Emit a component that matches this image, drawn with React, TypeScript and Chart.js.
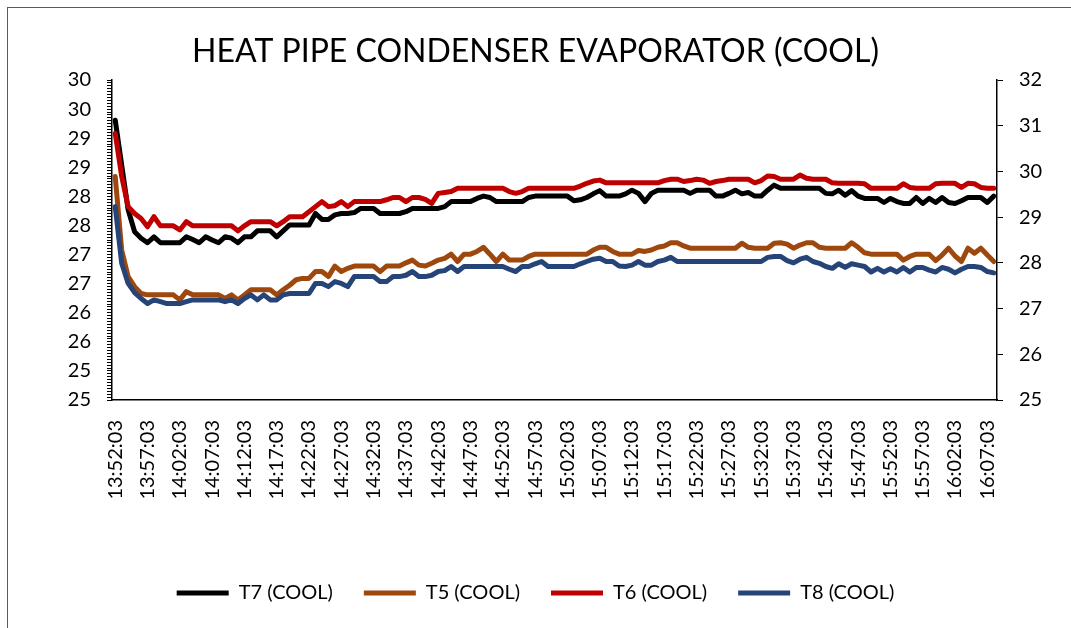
import React, { useEffect, useRef } from 'react';
import { Chart, registerables } from 'chart.js';

Chart.register(...registerables);

// ---- Data ----
const startTime = '13:52:03';
const pointCount = 137; // one reading per minute

function buildCategories(): string[] {
  const [h, m, s] = startTime.split(':').map(Number);
  const out: string[] = [];
  for (let i = 0; i < pointCount; i++) {
    const total = h * 60 + m + i;
    const hh = Math.floor(total / 60);
    const mm = total % 60;
    out.push(`${hh}:${String(mm).padStart(2, '0')}:${String(s).padStart(2, '0')}`);
  }
  return out;
}
const categories = buildCategories();

const t7Cool = [
  31.12, 30.14, 29.16, 28.68, 28.54, 28.44, 28.57, 28.44, 28.44, 28.44,
  28.44, 28.57, 28.51, 28.44, 28.57, 28.50, 28.44, 28.57, 28.54, 28.44,
  28.57, 28.57, 28.70, 28.70, 28.70, 28.57, 28.70, 28.83, 28.83, 28.83,
  28.83, 29.08, 28.95, 28.95, 29.05, 29.08, 29.08, 29.10, 29.19, 29.19,
  29.19, 29.08, 29.08, 29.08, 29.08, 29.12, 29.19, 29.19, 29.19, 29.19,
  29.19, 29.23, 29.34, 29.34, 29.34, 29.34, 29.41, 29.46, 29.43, 29.34,
  29.34, 29.34, 29.34, 29.34, 29.43, 29.46, 29.46, 29.46, 29.46, 29.46,
  29.46, 29.36, 29.38, 29.43, 29.51, 29.58, 29.46, 29.46, 29.46, 29.51,
  29.59, 29.52, 29.34, 29.52, 29.59, 29.59, 29.59, 29.59, 29.59, 29.52,
  29.59, 29.59, 29.59, 29.46, 29.46, 29.52, 29.59, 29.51, 29.54, 29.46,
  29.46, 29.59, 29.70, 29.63, 29.63, 29.63, 29.63, 29.63, 29.63, 29.63,
  29.52, 29.51, 29.59, 29.48, 29.58, 29.46, 29.41, 29.41, 29.41, 29.32,
  29.41, 29.34, 29.30, 29.30, 29.43, 29.30, 29.41, 29.32, 29.43, 29.32,
  29.30, 29.36, 29.43, 29.43, 29.43, 29.32, 29.46,
];

const t5Cool = [
  29.89, 28.28, 27.70, 27.48, 27.33, 27.30, 27.30, 27.30, 27.30, 27.30,
  27.19, 27.37, 27.30, 27.30, 27.30, 27.30, 27.30, 27.22, 27.30, 27.19,
  27.30, 27.41, 27.41, 27.41, 27.41, 27.30, 27.41, 27.51, 27.63, 27.66,
  27.66, 27.81, 27.81, 27.70, 27.93, 27.81, 27.88, 27.93, 27.93, 27.93,
  27.93, 27.81, 27.93, 27.93, 27.93, 28.00, 28.06, 27.95, 27.93, 27.99,
  28.06, 28.10, 28.19, 28.03, 28.19, 28.19, 28.25, 28.34, 28.19, 28.03,
  28.19, 28.06, 28.06, 28.06, 28.14, 28.19, 28.19, 28.19, 28.19, 28.19,
  28.19, 28.19, 28.19, 28.19, 28.28, 28.34, 28.34, 28.25, 28.19, 28.19,
  28.19, 28.27, 28.25, 28.28, 28.34, 28.37, 28.44, 28.44, 28.37, 28.32,
  28.32, 28.32, 28.32, 28.32, 28.32, 28.32, 28.32, 28.43, 28.34, 28.32,
  28.32, 28.32, 28.43, 28.44, 28.41, 28.32, 28.39, 28.44, 28.44, 28.34,
  28.32, 28.32, 28.32, 28.32, 28.44, 28.34, 28.22, 28.19, 28.19, 28.19,
  28.19, 28.19, 28.06, 28.14, 28.19, 28.19, 28.19, 28.05, 28.17, 28.32,
  28.15, 28.03, 28.32, 28.21, 28.32, 28.17, 28.03,
];

const t6Cool = [
  30.83, 29.89, 29.23, 29.08, 28.97, 28.79, 29.01, 28.81, 28.81, 28.81,
  28.72, 28.90, 28.81, 28.81, 28.81, 28.81, 28.81, 28.81, 28.81, 28.70,
  28.81, 28.90, 28.90, 28.90, 28.90, 28.81, 28.90, 29.01, 29.01, 29.01,
  29.12, 29.23, 29.34, 29.23, 29.25, 29.34, 29.23, 29.34, 29.34, 29.34,
  29.34, 29.34, 29.38, 29.43, 29.43, 29.34, 29.43, 29.43, 29.39, 29.30,
  29.52, 29.54, 29.56, 29.63, 29.63, 29.63, 29.63, 29.63, 29.63, 29.63,
  29.63, 29.56, 29.52, 29.56, 29.63, 29.63, 29.63, 29.63, 29.63, 29.63,
  29.63, 29.63, 29.68, 29.74, 29.79, 29.81, 29.75, 29.75, 29.75, 29.75,
  29.75, 29.75, 29.75, 29.75, 29.75, 29.80, 29.83, 29.83, 29.78, 29.80,
  29.83, 29.81, 29.74, 29.78, 29.80, 29.83, 29.83, 29.83, 29.83, 29.75,
  29.80, 29.90, 29.89, 29.83, 29.83, 29.83, 29.92, 29.85, 29.83, 29.83,
  29.83, 29.75, 29.74, 29.74, 29.74, 29.74, 29.73, 29.63, 29.63, 29.63,
  29.63, 29.63, 29.73, 29.65, 29.63, 29.63, 29.63, 29.73, 29.74, 29.74,
  29.74, 29.65, 29.74, 29.73, 29.65, 29.63, 29.63,
];

const t8Cool = [
  29.23, 27.99, 27.55, 27.35, 27.22, 27.11, 27.19, 27.15, 27.11, 27.11,
  27.11, 27.15, 27.19, 27.19, 27.19, 27.19, 27.19, 27.15, 27.19, 27.11,
  27.22, 27.30, 27.19, 27.30, 27.19, 27.19, 27.30, 27.33, 27.33, 27.33,
  27.33, 27.55, 27.55, 27.48, 27.59, 27.55, 27.48, 27.70, 27.70, 27.70,
  27.70, 27.59, 27.59, 27.70, 27.70, 27.73, 27.81, 27.70, 27.70, 27.73,
  27.81, 27.83, 27.92, 27.81, 27.92, 27.92, 27.92, 27.92, 27.92, 27.92,
  27.92, 27.86, 27.81, 27.92, 27.92, 27.98, 28.03, 27.92, 27.92, 27.92,
  27.92, 27.92, 27.98, 28.03, 28.08, 28.10, 28.03, 28.03, 27.93, 27.92,
  27.95, 28.03, 27.95, 27.95, 28.03, 28.06, 28.12, 28.03, 28.03, 28.03,
  28.03, 28.03, 28.03, 28.03, 28.03, 28.03, 28.03, 28.03, 28.03, 28.03,
  28.03, 28.12, 28.14, 28.14, 28.05, 28.00, 28.08, 28.12, 28.03, 27.99,
  27.92, 27.88, 27.98, 27.90, 27.98, 27.95, 27.92, 27.80, 27.88, 27.80,
  27.87, 27.80, 27.90, 27.80, 27.90, 27.90, 27.84, 27.80, 27.90, 27.86,
  27.78, 27.86, 27.92, 27.92, 27.90, 27.81, 27.78,
];

const leftTickLabels = ['25', '25', '26', '26', '27', '27', '28', '28', '29', '29', '30', '30'];
const rightTickLabels = ['25', '26', '27', '28', '29', '30', '31', '32'];

const FONT = 'Lato, "Open Sans", sans-serif';

export default function App() {
  const canvasRef = useRef<HTMLCanvasElement>(null);

  useEffect(() => {
    if (!canvasRef.current) return;
    const mk = (label: string, data: number[], color: string, order: number) => ({
      label,
      data,
      borderColor: color,
      backgroundColor: color,
      borderWidth: 5,
      pointRadius: 0,
      tension: 0,
      borderJoinStyle: 'round' as const,
      borderCapStyle: 'round' as const,
      yAxisID: 'y',
      order,
    });
    const chart = new Chart(canvasRef.current, {
      type: 'line',
      data: {
        labels: categories,
        datasets: [
          mk('T7 (COOL)', t7Cool, '#000000', 4),
          mk('T5 (COOL)', t5Cool, '#9E480E', 3),
          mk('T6 (COOL)', t6Cool, '#C00000', 2),
          mk('T8 (COOL)', t8Cool, '#264478', 1),
        ],
      },
      options: {
        responsive: false,
        animation: false,
        layout: { padding: { left: 0, right: 0, top: 0, bottom: 15 } },
        plugins: {
          title: {
            display: true,
            text: 'HEAT PIPE CONDENSER EVAPORATOR (COOL)',
            color: '#000',
            font: { family: FONT, size: 32, weight: 'normal' },
            padding: { top: 32.5, bottom: 9.1 },
          },
          legend: {
            position: 'bottom',
            labels: {
              boxWidth: 52,
              boxHeight: 5,
              padding: 31,
              color: '#000',
              font: { family: FONT, size: 20 },
              sort: (a: any, b: any) => a.datasetIndex - b.datasetIndex,
              generateLabels: (c: any) =>
                Chart.defaults.plugins.legend.labels
                  .generateLabels(c)
                  .map((it: any) => ({ ...it, lineWidth: 0, fillStyle: it.strokeStyle })),
            },
          },
          tooltip: { enabled: false },
        },
        scales: {
          x: {
            type: 'category',
            offset: true,
            grid: { display: false, drawTicks: false },
            border: { display: true, color: '#000', width: 1.5 },
            ticks: {
              autoSkip: false,
              minRotation: 90,
              maxRotation: 90,
              padding: 20,
              color: '#000',
              font: { family: FONT, size: 20 },
              callback: (_v: any, i: number) => (i % 5 === 0 ? categories[i] : ''),
            },
            afterFit: (s: any) => {
              s.height = 152;
            },
          },
          yl: {
            type: 'linear',
            axis: 'y',
            position: 'left',
            display: true,
            min: 0,
            max: 110,
            ticks: {
              stepSize: 1,
              autoSkip: false,
              maxTicksLimit: 1000,
              padding: 16,
              color: '#000',
              font: { family: FONT, size: 20 },
              callback: (v: any) => (Number(v) % 10 === 0 ? leftTickLabels[Number(v) / 10] : ''),
            },
            grid: { display: true, drawOnChartArea: false, drawTicks: true, tickLength: 5, color: '#000' },
            border: { display: true, color: '#000', width: 1.5 },
            afterFit: (s: any) => {
              s.width = 112;
            },
          },
          y: {
            type: 'linear',
            position: 'right',
            min: 25,
            max: 32,
            ticks: {
              stepSize: 1,
              padding: 16,
              color: '#000',
              font: { family: FONT, size: 20 },
              callback: (v: any) => rightTickLabels[Number(v) - 25],
            },
            grid: { display: true, drawOnChartArea: false, drawTicks: true, tickLength: 6, color: '#000' },
            border: { display: true, color: '#000', width: 1.5 },
            afterFit: (s: any) => {
              s.width = 74;
            },
          },
        },
      },
    } as any);
    return () => chart.destroy();
  }, []);

  return (
    <div style={{ position: 'absolute', left: 0, top: 0, width: 1071, height: 628, overflow: 'hidden', background: '#fff' }}>
      <div
        style={{
          position: 'absolute',
          left: 7,
          top: 7,
          width: 1200,
          height: 800,
          borderLeft: '1px solid #595959',
          borderTop: '1px solid #595959',
        }}
      />
      <canvas ref={canvasRef} width={1071} height={628} style={{ position: 'absolute', left: 0, top: 0, display: 'block' }} />
    </div>
  );
}
